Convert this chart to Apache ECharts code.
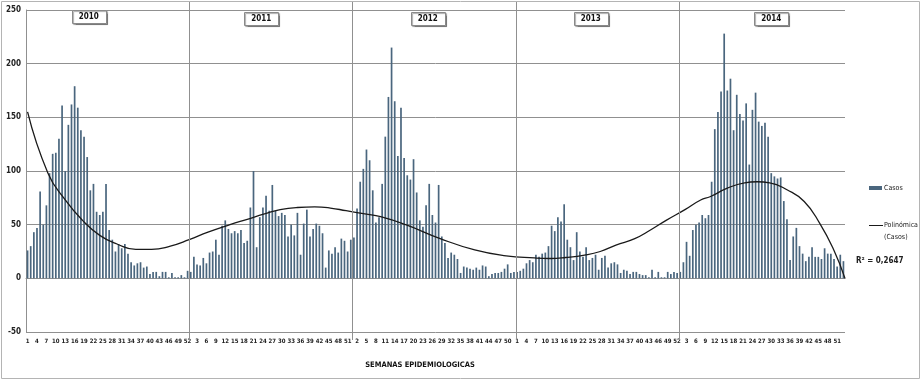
<!DOCTYPE html>
<html>
<head>
<meta charset="utf-8">
<script src="https://cdn.jsdelivr.net/npm/echarts@6/dist/echarts.min.js"></script>
<style>
  html, body { margin: 0; padding: 0; background: #fff; }
  #chart { width: 922px; height: 381px; }
</style>
</head>
<body>
<div id="chart"></div>
<script>
// semanas por año (2014 tiene 53 semanas epidemiologicas)
const years = ['2010', '2011', '2012', '2013', '2014'];
const weeksPerYear = [52, 52, 52, 52, 53];

// casos por semana
const casos2010 = [26, 30, 43, 47, 81, 50, 68, 98, 116, 117, 130, 161, 100, 143, 162, 179, 159, 138, 132, 113,
  82, 88, 62, 59, 62, 88, 45, 36, 25, 32, 28, 32, 23, 15, 12, 14, 15, 10, 11, 4,
  6, 6, 2, 6, 6, 1, 5, 1, 1, 3, 1, 7];
const casos2011 = [6, 20, 13, 12, 19, 14, 24, 25, 36, 22, 49, 54, 46, 42, 44, 42, 45, 33, 35, 66,
  100, 29, 57, 66, 77, 63, 87, 63, 58, 61, 59, 39, 50, 40, 61, 22, 51, 64, 39, 46,
  51, 49, 42, 10, 26, 23, 29, 24, 37, 35, 25, 36];
const casos2012 = [38, 65, 90, 102, 120, 110, 82, 52, 57, 88, 132, 169, 215, 165, 114, 159, 112, 96, 92, 111,
  80, 54, 48, 68, 88, 59, 52, 87, 39, 33, 19, 24, 22, 18, 5, 11, 10, 9, 8, 10,
  8, 12, 11, 2, 4, 5, 5, 6, 9, 13, 5, 6];
const casos2013 = [6, 7, 9, 14, 17, 15, 22, 20, 23, 24, 30, 49, 44, 57, 53, 69, 36, 29, 17, 43,
  25, 20, 29, 17, 19, 22, 8, 19, 21, 10, 14, 15, 13, 5, 8, 7, 4, 6, 6, 4,
  3, 3, 1, 8, 1, 6, 1, 1, 6, 4, 6, 5];
const casos2014 = [6, 15, 34, 21, 45, 50, 52, 59, 56, 59, 90, 139, 155, 174, 228, 175, 186, 138, 171, 153,
  147, 163, 106, 157, 173, 146, 142, 145, 132, 98, 95, 93, 94, 72, 55, 17, 39, 47, 30, 23,
  16, 20, 29, 20, 20, 18, 28, 23, 23, 18, 11, 22, 16];

// linea de tendencia polinomica: [semana acumulada, casos]
const trendPoints = [[0.5, 155], [7, 98], [12.5, 73], [18, 54], [23.5, 40], [29, 32], [35, 27], [40, 27],
  [46, 30], [52, 36], [58, 43], [65, 50], [70.5, 55], [76, 60], [81, 64], [86.5, 66], [92, 66.5],
  [97, 65.5], [102, 63], [108, 60], [113, 57.5], [121, 50], [132, 37], [143, 26.5], [153, 21],
  [162, 19], [167, 18.5], [172, 19.4], [178, 21.6], [183, 25], [188, 31], [194, 37], [199, 45],
  [204, 54], [210, 64], [215, 73], [218, 76], [223.5, 84], [229, 89], [233, 90], [237, 89],
  [242.5, 82.5], [248, 71.6], [253, 51], [257.5, 26], [261, 0]];

// posicion (en semanas acumuladas) de los rotulos de año
const yearLabelPos = [20, 75, 128, 180, 237.5];
const yearSeparators = [52, 104, 156, 208];

const fontFam = "'Liberation Sans Narrow', 'DejaVu Sans Condensed', 'Liberation Sans', sans-serif";

let categories = [];
weeksPerYear.forEach(n => {
  for (let w = 1; w <= n; w++) categories.push(String(w));
});
const casos = [].concat(casos2010, casos2011, casos2012, casos2013, casos2014);
const totalWeeks = categories.length;

const myChart = echarts.init(document.getElementById('chart'));

const option = {
  animation: false,
  grid: { left: 26, right: 77, top: 10, bottom: 49 },
  xAxis: [
    {
      type: 'category',
      data: categories,
      axisLine: { onZero: true, lineStyle: { color: '#909090' } },
      axisTick: { show: false },
      axisLabel: {
        interval: 2,
        fontSize: 6,
        fontWeight: 'bold',
        fontFamily: fontFam,
        color: '#222',
        margin: 6
      }
    },
    {
      // eje auxiliar para la tendencia y las anotaciones
      type: 'value',
      min: 0,
      max: totalWeeks,
      show: false
    }
  ],
  yAxis: {
    type: 'value',
    min: -50,
    max: 250,
    interval: 50,
    axisLine: { show: true, lineStyle: { color: '#909090' } },
    axisTick: { show: false },
    splitLine: { lineStyle: { color: '#909090', width: 1 } },
    axisLabel: {
      fontSize: 8,
      fontWeight: 'bold',
      fontFamily: fontFam,
      color: '#222',
      margin: 5
    }
  },
  series: [
    {
      name: 'Casos',
      type: 'bar',
      data: casos,
      barWidth: 1.7,
      itemStyle: { color: '#4a667e' }
    },
    {
      name: 'Polinómica (Casos)',
      type: 'line',
      xAxisIndex: 1,
      data: trendPoints,
      smooth: true,
      symbol: 'none',
      lineStyle: { color: '#1a1a1a', width: 1.3 },
      z: 5
    }
  ]
};
myChart.setOption(option);

// anotaciones: separadores de año, rotulos, leyenda, R2 y titulo del eje
function addGraphics() {
  const g = [];
  g.push({
    type: 'rect', shape: { x: 1.5, y: 1.5, width: 918, height: 377 },
    style: { fill: 'none', stroke: '#b4b4b4', lineWidth: 1 }, silent: true
  });
  yearSeparators.forEach(wk => {
    const x = Math.round(myChart.convertToPixel({ xAxisIndex: 1 }, wk)) + 0.5;
    g.push({
      type: 'line', shape: { x1: x, y1: 2, x2: x, y2: 340 },
      style: { stroke: '#909090', lineWidth: 1 }, z: 10
    });
  });
  years.forEach((yr, i) => {
    const cx = myChart.convertToPixel({ xAxisIndex: 1 }, yearLabelPos[i]);
    const top = i === 0 ? 10 : 12;
    g.push({
      type: 'rect', shape: { x: Math.round(cx - 17) + 0.5, y: top + 0.5, width: 34, height: 13 },
      style: { fill: '#fff', stroke: '#8a8a8a', lineWidth: 1, shadowColor: 'rgba(0,0,0,0.35)', shadowOffsetX: 1, shadowOffsetY: 1, shadowBlur: 1 },
      z: 20
    });
    g.push({
      type: 'text', x: cx, y: top + 7,
      style: { text: yr, font: 'bold 8px ' + fontFam, fill: '#111', align: 'center', verticalAlign: 'middle' },
      z: 21
    });
  });
  // leyenda
  g.push({ type: 'rect', shape: { x: 869, y: 186, width: 13, height: 4 }, style: { fill: '#4a667e' } });
  g.push({ type: 'text', x: 884, y: 188, style: { text: 'Casos', font: '7px ' + fontFam, fill: '#222', verticalAlign: 'middle' } });
  g.push({ type: 'line', shape: { x1: 869, y1: 225.5, x2: 883, y2: 225.5 }, style: { stroke: '#1a1a1a', lineWidth: 1 } });
  g.push({ type: 'text', x: 884, y: 225, style: { text: 'Polinómica', font: '7px ' + fontFam, fill: '#222', verticalAlign: 'middle' } });
  g.push({ type: 'text', x: 884, y: 237, style: { text: '(Casos)', font: '7px ' + fontFam, fill: '#222', verticalAlign: 'middle' } });
  g.push({
    type: 'text', x: 856, y: 261,
    style: { text: 'R² = 0,2647', font: 'bold 8px ' + fontFam, fill: '#222', verticalAlign: 'middle' }
  });
  g.push({
    type: 'text', x: 420, y: 365,
    style: { text: 'SEMANAS EPIDEMIOLOGICAS', font: 'bold 7.5px ' + fontFam, fill: '#111', align: 'center', verticalAlign: 'middle' }
  });
  myChart.setOption({ graphic: g });
}
addGraphics();
</script>
</body>
</html>
